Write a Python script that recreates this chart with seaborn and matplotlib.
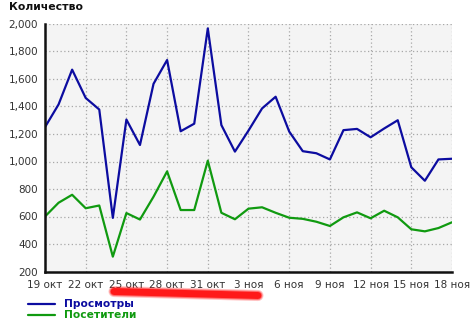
import matplotlib
matplotlib.use("Agg")
import matplotlib.pyplot as plt
from matplotlib.lines import Line2D
import seaborn as sns
import pandas as pd
import numpy as np

# ---- data ----
dates = pd.date_range("2011-10-19", "2011-11-18", freq="D")
views = [1250, 1415, 1668, 1462, 1378, 590, 1305, 1120, 1565, 1738, 1220, 1275,
         1968, 1265, 1072, 1225, 1386, 1471, 1218, 1075, 1060, 1015, 1228, 1237,
         1176, 1240, 1300, 958, 860, 1015, 1020]
visitors = [600, 700, 758, 660, 680, 308, 625, 578, 744, 928, 647, 647,
            1006, 627, 580, 657, 667, 627, 591, 583, 562, 531, 594, 630,
            587, 642, 594, 507, 492, 516, 558]
series_names = ["Просмотры", "Посетители"]
series_colors = ["#0c0ca0", "#109a10"]
month_abbr = {10: "окт", 11: "ноя"}
y_ticks = [200, 400, 600, 800, 1000, 1200, 1400, 1600, 1800, 2000]
title = "Количество"

df = pd.DataFrame({
    "day": list(range(len(dates))) * 2,
    "value": views + visitors,
    "series": [series_names[0]] * len(dates) + [series_names[1]] * len(dates),
})

sns.set_style("white")
plt.rcParams["font.family"] = ["DejaVu Sans"]

fig = plt.figure(figsize=(4.74, 3.34), dpi=100)
ax = fig.add_axes([45 / 474, 1 - 271.5 / 334, (452 - 45) / 474, (271.5 - 24) / 334])
ax.set_facecolor("#f4f4f4")

sns.lineplot(data=df, x="day", y="value", hue="series", palette=series_colors,
             ax=ax, linewidth=1.6, legend=False)

tick_idx = list(range(0, len(dates), 3))
tick_labels = [f"{dates[i].day} {month_abbr[dates[i].month]}" for i in tick_idx]
ax.set_xticks(tick_idx)
ax.set_xticklabels(tick_labels)
ax.set_xlim(0, len(dates) - 1)
ax.set_ylim(200, 2000)
ax.set_yticks(y_ticks)
ax.set_yticklabels([f"{v:,}" for v in y_ticks])
ax.set_xlabel("")
ax.set_ylabel("")

ax.grid(True, color="#a8a8a8", linestyle=(0, (1, 2)), linewidth=0.9)
ax.set_axisbelow(True)
for s in ["top", "right"]:
    ax.spines[s].set_visible(False)
for s in ["left", "bottom"]:
    ax.spines[s].set_color("#111111")
    ax.spines[s].set_linewidth(1.8)

ax.tick_params(axis="both", direction="out", length=3, width=1.2, color="#111111",
               labelsize=7.5, labelcolor="#333333", pad=2)
ax.tick_params(axis="x", pad=3)

fig.text(9 / 474, 1 - 7.5 / 334, title, fontsize=7.8, fontweight="bold",
         color="#111111", va="center", ha="left")

# red marker stroke (annotation on the original image), soft edges
x0, x1 = 114 / 474, 258 / 474
y0, y1 = 1 - 291.5 / 334, 1 - 295.5 / 334
for lw, a in [(8.0, 0.25), (6.5, 0.45), (5.0, 0.9)]:
    fig.add_artist(Line2D([x0, x1], [y0, y1], color="#ff1010", linewidth=lw,
                          solid_capstyle="round", alpha=a))

# legend
for i, (name, col) in enumerate(zip(series_names, series_colors)):
    yy = 1 - (304 + 11 * i) / 334
    fig.add_artist(Line2D([28 / 474, 55 / 474], [yy, yy], color=col, linewidth=1.6))
    fig.text(64 / 474, yy, name, color=col, fontsize=7.7, fontweight="bold",
             va="center", ha="left")

fig.savefig("out.png", dpi=100)
